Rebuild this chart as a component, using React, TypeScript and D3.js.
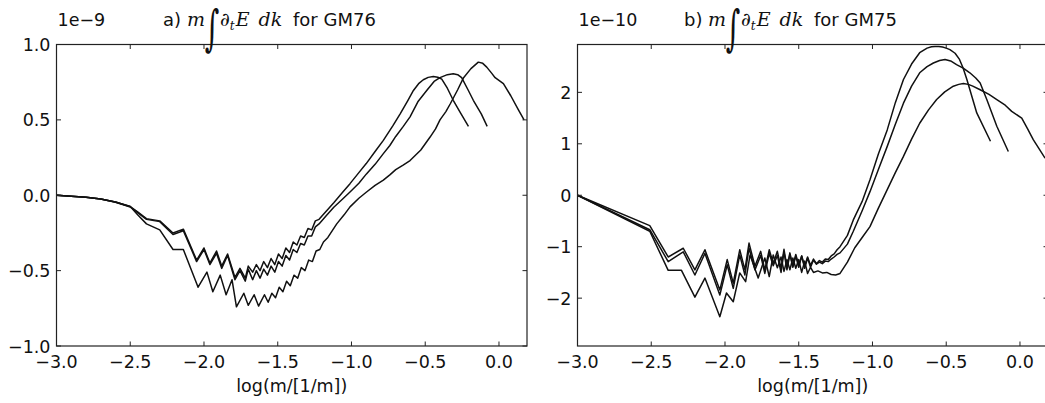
import React from 'react';
import * as d3 from 'd3';

// ---------- data ----------
const xTicks = [-3.0, -2.5, -2.0, -1.5, -1.0, -0.5, 0.0];
const xTickLabels = ['−3.0', '−2.5', '−2.0', '−1.5', '−1.0', '−0.5', '0.0'];
const yTicksA = [1.0, 0.5, 0.0, -0.5, -1.0];
const yTickLabelsA = ['1.0', '0.5', '0.0', '−0.5', '−1.0'];
const yTicksB = [2, 1, 0, -1, -2];
const yTickLabelsB = ['2', '1', '0', '−1', '−2'];

// panel a (units of 1e-9)
const aX1 = [-3.0, -2.8, -2.7, -2.6, -2.5, -2.45, -2.39, -2.30, -2.21, -2.14, -2.05, -2.0, -1.96, -1.915, -1.88, -1.84, -1.79, -1.756, -1.72, -1.70, -1.67, -1.645, -1.62, -1.595, -1.57, -1.545, -1.52, -1.495, -1.47, -1.445, -1.42, -1.395, -1.37, -1.345, -1.32, -1.295, -1.27, -1.245, -1.22, -1.17, -1.12, -1.06, -1.01, -0.95, -0.9, -0.84, -0.784, -0.72, -0.67, -0.62, -0.58, -0.545, -0.513, -0.48, -0.445, -0.415, -0.388, -0.35, -0.31, -0.26, -0.207];
const aY1 = [0, -0.014, -0.025, -0.045, -0.075, -0.11, -0.155, -0.17, -0.25, -0.225, -0.43, -0.35, -0.45, -0.37, -0.47, -0.39, -0.545, -0.485, -0.55, -0.47, -0.51, -0.46, -0.50, -0.44, -0.48, -0.42, -0.46, -0.39, -0.42, -0.35, -0.38, -0.31, -0.33, -0.27, -0.28, -0.22, -0.23, -0.17, -0.16, -0.105, -0.05, 0.02, 0.077, 0.15, 0.21, 0.29, 0.364, 0.46, 0.54, 0.625, 0.695, 0.74, 0.766, 0.782, 0.788, 0.783, 0.77, 0.71, 0.63, 0.545, 0.457];

const aX2 = [-3.0, -2.8, -2.7, -2.6, -2.5, -2.45, -2.39, -2.30, -2.21, -2.14, -2.05, -2.0, -1.96, -1.915, -1.88, -1.84, -1.79, -1.756, -1.72, -1.70, -1.67, -1.645, -1.62, -1.595, -1.57, -1.545, -1.52, -1.495, -1.47, -1.445, -1.42, -1.395, -1.37, -1.345, -1.32, -1.295, -1.27, -1.245, -1.22, -1.17, -1.12, -1.06, -1.01, -0.95, -0.9, -0.84, -0.784, -0.74, -0.70, -0.65, -0.603, -0.55, -0.49, -0.44, -0.40, -0.35, -0.31, -0.28, -0.253, -0.21, -0.174, -0.12, -0.08];
const aY2 = [0, -0.014, -0.025, -0.047, -0.078, -0.115, -0.16, -0.175, -0.26, -0.235, -0.44, -0.36, -0.46, -0.385, -0.485, -0.40, -0.56, -0.50, -0.57, -0.49, -0.56, -0.50, -0.55, -0.49, -0.53, -0.47, -0.51, -0.44, -0.47, -0.40, -0.43, -0.36, -0.38, -0.32, -0.33, -0.27, -0.27, -0.21, -0.19, -0.135, -0.08, -0.025, 0.022, 0.08, 0.14, 0.205, 0.276, 0.33, 0.39, 0.455, 0.52, 0.62, 0.695, 0.755, 0.78, 0.80, 0.806, 0.80, 0.78, 0.70, 0.63, 0.54, 0.457];

const aX3 = [-3.0, -2.8, -2.7, -2.6, -2.5, -2.45, -2.39, -2.30, -2.21, -2.14, -2.04, -1.98, -1.94, -1.89, -1.85, -1.81, -1.78, -1.73, -1.70, -1.66, -1.63, -1.59, -1.565, -1.54, -1.515, -1.49, -1.465, -1.44, -1.415, -1.39, -1.365, -1.34, -1.315, -1.29, -1.265, -1.24, -1.215, -1.19, -1.16, -1.1, -1.05, -1.01, -0.95, -0.9, -0.84, -0.784, -0.74, -0.7, -0.65, -0.603, -0.53, -0.467, -0.43, -0.40, -0.36, -0.33, -0.28, -0.24, -0.19, -0.14, -0.11, -0.083, -0.05, -0.026, 0.03, 0.08, 0.13, 0.17];
const aY3 = [0, -0.014, -0.025, -0.045, -0.075, -0.13, -0.19, -0.23, -0.36, -0.36, -0.61, -0.51, -0.64, -0.53, -0.66, -0.56, -0.74, -0.65, -0.73, -0.66, -0.735, -0.66, -0.71, -0.65, -0.68, -0.61, -0.64, -0.57, -0.60, -0.53, -0.55, -0.48, -0.50, -0.43, -0.44, -0.37, -0.36, -0.31, -0.28, -0.19, -0.13, -0.077, -0.02, 0.02, 0.065, 0.10, 0.135, 0.17, 0.20, 0.23, 0.30, 0.386, 0.44, 0.50, 0.555, 0.607, 0.70, 0.78, 0.84, 0.883, 0.875, 0.85, 0.81, 0.78, 0.74, 0.66, 0.57, 0.50];

// panel b (units of 1e-10)
const bX1 = [-3.0, -2.51, -2.385, -2.283, -2.204, -2.136, -2.035, -1.985, -1.944, -1.90, -1.865, -1.837, -1.797, -1.758, -1.73, -1.70, -1.673, -1.645, -1.62, -1.60, -1.58, -1.56, -1.54, -1.52, -1.50, -1.48, -1.46, -1.44, -1.42, -1.40, -1.38, -1.36, -1.34, -1.32, -1.30, -1.28, -1.26, -1.24, -1.22, -1.17, -1.13, -1.07, -1.017, -0.96, -0.90, -0.845, -0.79, -0.735, -0.68, -0.63, -0.60, -0.576, -0.55, -0.525, -0.50, -0.475, -0.44, -0.41, -0.385, -0.36, -0.293, -0.20];
const bY1 = [0, -0.59, -1.20, -1.03, -1.45, -1.06, -1.84, -1.25, -1.71, -1.06, -1.45, -0.93, -1.38, -1.09, -1.45, -1.06, -1.32, -1.09, -1.42, -1.05, -1.40, -1.12, -1.38, -1.15, -1.36, -1.18, -1.38, -1.20, -1.36, -1.24, -1.33, -1.27, -1.30, -1.24, -1.25, -1.18, -1.14, -1.06, -1.00, -0.78, -0.48, -0.12, 0.30, 0.80, 1.27, 1.80, 2.25, 2.55, 2.77, 2.86, 2.885, 2.89, 2.89, 2.88, 2.86, 2.83, 2.76, 2.64, 2.47, 2.25, 1.60, 1.05];

const bX2 = [-3.0, -2.51, -2.385, -2.283, -2.204, -2.136, -2.035, -1.985, -1.944, -1.90, -1.865, -1.837, -1.797, -1.758, -1.73, -1.70, -1.673, -1.645, -1.62, -1.60, -1.58, -1.56, -1.54, -1.52, -1.50, -1.48, -1.46, -1.44, -1.42, -1.40, -1.38, -1.36, -1.34, -1.32, -1.30, -1.28, -1.26, -1.24, -1.22, -1.17, -1.13, -1.07, -1.017, -0.96, -0.90, -0.845, -0.79, -0.735, -0.68, -0.63, -0.587, -0.545, -0.508, -0.47, -0.43, -0.385, -0.34, -0.30, -0.27, -0.225, -0.157, -0.079];
const bY2 = [0, -0.67, -1.29, -1.10, -1.55, -1.13, -1.94, -1.35, -1.81, -1.16, -1.55, -1.03, -1.45, -1.17, -1.52, -1.13, -1.37, -1.17, -1.50, -1.10, -1.45, -1.15, -1.40, -1.18, -1.40, -1.18, -1.42, -1.22, -1.40, -1.26, -1.34, -1.30, -1.33, -1.28, -1.29, -1.24, -1.20, -1.15, -1.12, -0.95, -0.70, -0.30, 0.07, 0.50, 0.95, 1.38, 1.79, 2.12, 2.38, 2.50, 2.57, 2.62, 2.64, 2.61, 2.54, 2.47, 2.38, 2.28, 2.18, 1.86, 1.34, 0.85];

const bX3 = [-3.0, -2.51, -2.385, -2.295, -2.204, -2.136, -2.035, -1.99, -1.944, -1.90, -1.86, -1.83, -1.775, -1.73, -1.70, -1.673, -1.645, -1.62, -1.60, -1.58, -1.56, -1.54, -1.52, -1.50, -1.48, -1.46, -1.44, -1.42, -1.40, -1.37, -1.34, -1.31, -1.28, -1.25, -1.22, -1.17, -1.12, -1.07, -1.017, -0.96, -0.90, -0.845, -0.79, -0.735, -0.68, -0.62, -0.565, -0.51, -0.452, -0.415, -0.384, -0.35, -0.32, -0.27, -0.21, -0.157, -0.10, -0.056, 0.012, 0.05, 0.09, 0.13, 0.17];
const bY3 = [0, -0.70, -1.46, -1.46, -1.98, -1.61, -2.36, -1.90, -2.07, -1.51, -1.68, -1.16, -1.61, -1.22, -1.58, -1.16, -1.41, -1.20, -1.48, -1.25, -1.45, -1.22, -1.42, -1.25, -1.50, -1.28, -1.52, -1.40, -1.50, -1.47, -1.51, -1.50, -1.54, -1.55, -1.52, -1.30, -1.02, -0.82, -0.61, -0.25, 0.11, 0.44, 0.755, 1.09, 1.40, 1.66, 1.86, 2.01, 2.12, 2.155, 2.17, 2.155, 2.12, 2.05, 1.96, 1.86, 1.75, 1.63, 1.50, 1.30, 1.08, 0.90, 0.72];

const xDomain: [number, number] = [-3.0, 0.19];
const yDomainA: [number, number] = [-1.0, 1.0];
const yDomainB: [number, number] = [-2.93, 2.93];

// ---------- drawing ----------
const FONT = 'DejaVu Sans, sans-serif';
const MATH = 'DejaVu Serif, serif';

type Series = { xs: number[]; ys: number[] };

function Panel(props: {
  x0: number; x1: number; y0: number; y1: number;
  yDomain: [number, number]; yTicks: number[]; yLabels: string[];
  series: Series[]; letter: string; model: string; offset: string;
}) {
  const { x0, x1, y0, y1, yDomain, yTicks, yLabels, series, letter, model, offset } = props;
  const x = d3.scaleLinear().domain(xDomain).range([x0, x1]);
  const y = d3.scaleLinear().domain(yDomain).range([y1, y0]);
  const line = d3.line<[number, number]>()
    .x(d => x(d[0]))
    .y(d => y(d[1]))
    .curve(d3.curveLinear);
  const tl = 4.5;
  const fs = 17.5;
  const tx = x0 + 106.5; // title start
  const ty = 26;         // title baseline
  const intX = tx + 49;
  const intY = ty + 19;
  return (
    <g>
      <defs>
        <clipPath id={'clip' + letter}>
          <rect x={x0} y={y0} width={x1 - x0} height={y1 - y0} />
        </clipPath>
      </defs>
      <g clipPath={`url(#clip${letter})`}>
        {series.map((s, i) => (
          <path key={i} d={line(s.xs.map((v, j) => [v, s.ys[j]] as [number, number])) || ''}
            fill="none" stroke="#111" strokeWidth={1.5} strokeLinejoin="round" />
        ))}
      </g>
      <rect x={x0} y={y0} width={x1 - x0} height={y1 - y0} fill="none" stroke="#222" strokeWidth={1.2} />
      {xTicks.map((t, i) => (
        <g key={'xt' + i}>
          <line x1={x(t)} x2={x(t)} y1={y1} y2={y1 - tl} stroke="#222" strokeWidth={1} />
          <line x1={x(t)} x2={x(t)} y1={y0} y2={y0 + tl} stroke="#222" strokeWidth={1} />
          <text x={x(t)} y={y1 + 22} textAnchor="middle" fontFamily={FONT} fontSize={fs} fill="#111">{xTickLabels[i]}</text>
        </g>
      ))}
      {yTicks.map((t, i) => (
        <g key={'yt' + i}>
          <line x1={x0} x2={x0 + tl} y1={y(t)} y2={y(t)} stroke="#222" strokeWidth={1} />
          <line x1={x1} x2={x1 - tl} y1={y(t)} y2={y(t)} stroke="#222" strokeWidth={1} />
          <text x={x0 - 6} y={y(t) + 6.5} textAnchor="end" fontFamily={FONT} fontSize={fs} fill="#111">{yLabels[i]}</text>
        </g>
      ))}
      <text x={(x0 + x1) / 2} y={y1 + 46} textAnchor="middle" fontFamily={FONT} fontSize={fs} fill="#111">log(m/[1/m])</text>
      <text x={x0 + 1} y={ty} fontFamily={FONT} fontSize={fs} fill="#111">{offset}</text>
      <text x={tx} y={ty} fontFamily={FONT} fontSize={18} fill="#111">{letter + ')'}</text>
      <text x={tx + 24} y={ty} fontFamily={MATH} fontStyle="italic" fontSize={19} fill="#111">m</text>
      <text x={intX} y={intY} textAnchor="middle" fontFamily={MATH} fontSize={28} fill="#111"
        transform={`translate(${intX},${intY}) scale(1,1.75) translate(${-intX},${-intY})`}>∫</text>
      <text x={tx + 57} y={ty} fontFamily={MATH} fontSize={19} fill="#111">
        <tspan fontStyle="italic">∂</tspan>
        <tspan fontStyle="italic" fontSize={12} dy={4}>t</tspan>
        <tspan fontStyle="italic" dy={-4} dx={1}>E</tspan>
        <tspan fontStyle="italic" dx={9}>dk</tspan>
      </text>
      <text x={tx + 130} y={ty} fontFamily={FONT} fontSize={18} fill="#111">{'for ' + model}</text>
    </g>
  );
}

export default function App() {
  const seriesA: Series[] = [
    { xs: aX1, ys: aY1 },
    { xs: aX2, ys: aY2 },
    { xs: aX3, ys: aY3 },
  ];
  const seriesB: Series[] = [
    { xs: bX1, ys: bY1 },
    { xs: bX2, ys: bY2 },
    { xs: bX3, ys: bY3 },
  ];
  return (
    <svg width={1045} height={403} viewBox="0 0 1045 403"
      style={{ position: 'absolute', left: 0, top: 0, background: '#fff' }}>
      <rect x={0} y={0} width={1045} height={403} fill="#fff" />
      <Panel x0={56.5} x1={527} y0={44.5} y1={346} yDomain={yDomainA}
        yTicks={yTicksA} yLabels={yTickLabelsA} series={seriesA}
        letter="a" model="GM76" offset="1e−9" />
      <Panel x0={577.5} x1={1048} y0={44.5} y1={346} yDomain={yDomainB}
        yTicks={yTicksB} yLabels={yTickLabelsB} series={seriesB}
        letter="b" model="GM75" offset="1e−10" />
    </svg>
  );
}
